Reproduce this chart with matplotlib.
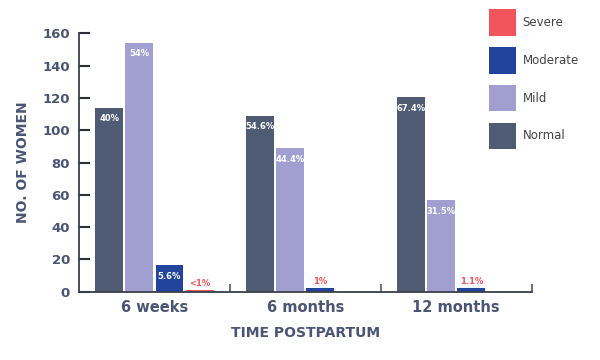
import matplotlib
matplotlib.use("Agg")
import matplotlib.pyplot as plt
import matplotlib.patches as mpatches
import numpy as np

categories = ["6 weeks", "6 months", "12 months"]
series_names = ["Normal", "Mild", "Moderate", "Severe"]
normal = [114, 109, 120.5]
mild = [154, 88.7, 56.5]
moderate = [16.5, 2, 2]
severe = [1, 0, 0]
normal_labels = ["40%", "54.6%", "67.4%"]
mild_labels = ["54%", "44.4%", "31.5%"]
moderate_labels = ["5.6%", "1%", "1.1%"]
severe_labels = ["<1%", "", ""]
yticks = [0, 20, 40, 60, 80, 100, 120, 140, 160]

colors = {"Normal": "#4f5b73", "Mild": "#a09fd0", "Moderate": "#22449c", "Severe": "#f2545b"}
text_col = "#4a5573"
red = "#f2545b"

fig = plt.figure(figsize=(6, 3.6), dpi=100)
ax = fig.add_axes([0.1317, 0.1897, 0.886 - 0.1317, 0.9075 - 0.1897])

x = np.arange(len(categories))
pitch = 0.2
width = 0.185
data = [normal, mild, moderate, severe]
labels = [normal_labels, mild_labels, moderate_labels, severe_labels]
for j, (name, vals, labs) in enumerate(zip(series_names, data, labels)):
    pos = x + (j - 1.5) * pitch
    ax.bar(pos, vals, width=width, color=colors[name], linewidth=0, zorder=2)
    for p, v, lab in zip(pos, vals, labs):
        if not lab:
            continue
        if v > 10:
            ax.annotate(lab, (p, v), xytext=(0, -11), textcoords="offset pixels",
                        ha="center", va="center", color="white", fontsize=6,
                        fontweight="bold", family="DejaVu Sans")
        else:
            ax.annotate(lab, (p, v), xytext=(0, 7), textcoords="offset pixels",
                        ha="center", va="center", color=red, fontsize=6,
                        fontweight="bold", family="DejaVu Sans")

ax.set_xlim(-0.5, 2.5)
ax.set_ylim(0, 160)
ax.set_yticks(yticks)
ax.set_yticklabels([str(t) for t in yticks])
ax.set_xticks(x)
ax.set_xticklabels(categories)
ax.set_xticks([0.5, 1.5, 2.5], minor=True)

for s in ["top", "right"]:
    ax.spines[s].set_visible(False)
for s in ["left", "bottom"]:
    ax.spines[s].set_color("#3a3f4a")
    ax.spines[s].set_linewidth(1.3)

ax.tick_params(axis="y", direction="in", length=8, width=1.5, color="#2a2e36",
               pad=6.5, labelsize=9.5, labelcolor=text_col)
ax.tick_params(axis="x", which="major", length=0, pad=6, labelsize=10.5,
               labelcolor=text_col)
ax.tick_params(axis="x", which="minor", direction="in", length=6, width=1.2,
               color="#4f5b73")
for lab in ax.get_yticklabels() + ax.get_xticklabels():
    lab.set_fontweight("bold")
    lab.set_family("DejaVu Sans")

ax.set_ylabel("NO. OF WOMEN", fontsize=10, fontweight="bold", color=text_col,
              family="DejaVu Sans", labelpad=9)
ax.set_xlabel("TIME POSTPARTUM", fontsize=10, fontweight="bold", color=text_col,
              family="DejaVu Sans", labelpad=8)

handles = [mpatches.Patch(facecolor=colors[n], edgecolor="none") for n in ["Severe", "Moderate", "Mild", "Normal"]]
fig.legend(handles, ["Severe", "Moderate", "Mild", "Normal"], loc="upper left",
           bbox_to_anchor=(489 / 600, 1 - 9 / 360), frameon=False,
           handlelength=2.3, handleheight=3.1, labelspacing=0.95, handletextpad=0.55,
           borderpad=0, borderaxespad=0, labelcolor="#444444",
           prop={"family": "DejaVu Sans", "size": 8.5})

fig.savefig("out.png", dpi=100)
